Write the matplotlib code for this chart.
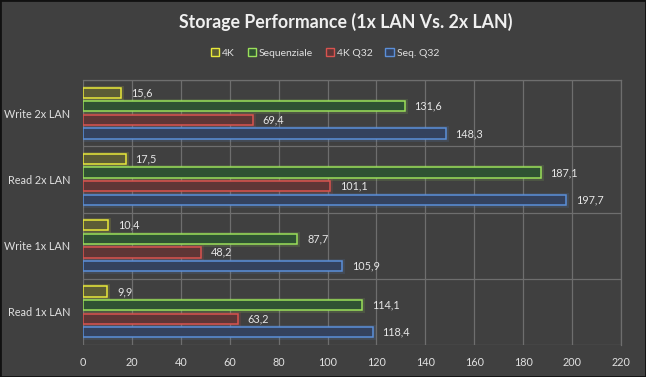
import matplotlib
matplotlib.use("Agg")
import matplotlib.pyplot as plt
from matplotlib.patches import Patch
import numpy as np

plt.rcParams['font.family'] = ['Lato', 'DejaVu Sans']

categories = ["Read 1x LAN", "Write 1x LAN", "Read 2x LAN", "Write 2x LAN"]
series_names = ["4K", "Sequenziale", "4K Q32", "Seq. Q32"]
v_4k = [9.9, 10.4, 17.5, 15.6]
v_seq = [114.1, 87.7, 187.1, 131.6]
v_4kq32 = [63.2, 48.2, 101.1, 69.4]
v_seqq32 = [118.4, 105.9, 197.7, 148.3]
series_values = [v_4k, v_seq, v_4kq32, v_seqq32]
xticks = list(range(0, 221, 20))

edge_colors = ["#e8e83a", "#9be05a", "#d9534f", "#5b8fd9"]
fill_colors = ["#5c5c36", "#2f5233", "#5e3636", "#34425e"]
bg = "#404040"

fig = plt.figure(figsize=(6.46, 3.77), dpi=100, facecolor=bg)
ax = fig.add_axes([83/646, 1-345/377, (621-83)/646, (345-80)/377])
ax.set_facecolor(bg)

y = np.arange(len(categories))
bh = 0.155
step = 0.205
offsets = [1.5*step, 0.5*step, -0.5*step, -1.5*step]

for i, vals in enumerate(series_values):
    pos = y + offsets[i]
    # glow
    ax.barh(pos, vals, height=bh, color='none', edgecolor=edge_colors[i],
            linewidth=3.5, alpha=0.15, zorder=2)
    ax.barh(pos, vals, height=bh, color=fill_colors[i], edgecolor=edge_colors[i],
            linewidth=1.1, zorder=3)
    for p, v in zip(pos, vals):
        ax.text(v + 4, p, f"{v:.1f}".replace('.', ','), va='center', ha='left',
                color='#e6e6e6', fontsize=7.8, zorder=4)

ax.set_xlim(0, 220)
ax.set_ylim(-0.5, len(categories) - 0.5)
ax.set_xticks(xticks)
ax.set_yticks(y)
ax.set_yticklabels(categories)
ax.set_yticks(np.arange(-0.5, len(categories), 1), minor=True)
ax.tick_params(axis='both', which='both', length=0, colors='#e0e0e0', labelsize=7.8)
ax.tick_params(axis='x', pad=9)
ax.tick_params(axis='y', pad=9)
ax.grid(True, axis='x', color='#6e6e6e', linewidth=0.9, zorder=0)
ax.grid(True, axis='y', which='minor', color='#6e6e6e', linewidth=0.9, zorder=0)
ax.set_axisbelow(True)
for s in ax.spines.values():
    s.set_color('#6e6e6e')
    s.set_linewidth(0.9)
ax.spines['left'].set_visible(False)
ax.spines['bottom'].set_visible(False)

fig.text(346/646, 1-22/377, "Storage Performance (1x LAN Vs. 2x LAN)", ha='center', va='center',
         fontsize=12.8, fontweight='bold', color='#f0f0f0')

handles = [Patch(facecolor=fill_colors[i], edgecolor=edge_colors[i], linewidth=1.0)
           for i in range(4)]
leg = fig.legend(handles, series_names, loc='center', bbox_to_anchor=(325/646, 1-53/377),
                 ncol=4, frameon=False, fontsize=7.5, handlelength=0.8, handleheight=0.8,
                 handletextpad=0.3, columnspacing=1.2, labelcolor='#e0e0e0')

# outer border
fig.patches.append(plt.Rectangle((0, 0), 1, 1, transform=fig.transFigure, fill=False,
                                 edgecolor='#111111', linewidth=2))

fig.savefig("out.png", dpi=100, facecolor=bg)
